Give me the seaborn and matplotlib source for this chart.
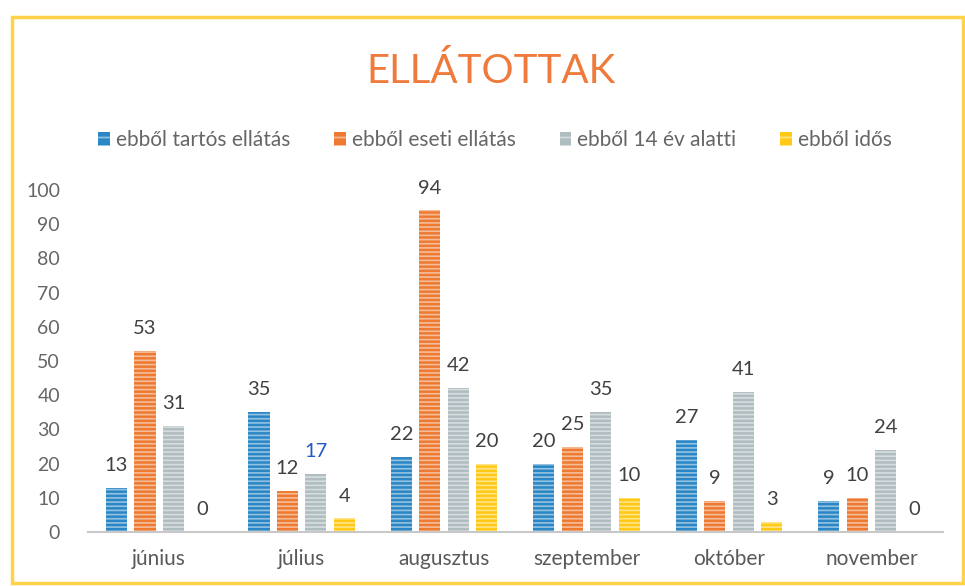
import numpy as np
import pandas as pd
import matplotlib
matplotlib.use("Agg")
import matplotlib.pyplot as plt
import seaborn as sns
from matplotlib.patches import Rectangle, Patch

months = ["június", "július", "augusztus", "szeptember", "október", "november"]
series = ["ebből tartós ellátás", "ebből eseti ellátás", "ebből 14 év alatti", "ebből idős"]
tartos = [13, 35, 22, 20, 27, 9]
eseti = [53, 12, 94, 25, 9, 10]
alatti14 = [31, 17, 42, 35, 41, 24]
idos = [0, 4, 20, 10, 3, 0]
yticks = [0, 10, 20, 30, 40, 50, 60, 70, 80, 90, 100]
colors = ["#2A86C4", "#EE7A32", "#AFBCC0", "#FFC914"]

df = pd.DataFrame({
    "hónap": months * 4,
    "sorozat": [s for s in series for _ in months],
    "érték": tartos + eseti + alatti14 + idos,
})

sns.set_theme(style="white")
plt.rcParams["font.family"] = ["Lato", "DejaVu Sans"]
plt.rcParams["hatch.linewidth"] = 1.2

fig = plt.figure(figsize=(9.65, 5.86), dpi=100)
ax = fig.add_axes([0.091, 0.092, 0.886, 0.584])

sns.barplot(data=df, x="hónap", y="érték", hue="sorozat", order=months,
            hue_order=series, palette=colors, width=0.8, gap=0.25,
            ax=ax, legend=False, saturation=1)

for cont in ax.containers:
    for p in cont:
        p.set_hatch("----")
        p.set_edgecolor((1, 1, 1, 0.5))
        p.set_linewidth(0)

label_col = "#404040"
for i, cont in enumerate(ax.containers):
    texts = ax.bar_label(cont, padding=10, fontsize=14.5, color=label_col)
    if i == 2:
        texts[1].set_color("#2458C8")

ax.set_ylim(0, 100)
ax.set_yticks(yticks)
ax.set_yticklabels([str(v) for v in yticks])
ax.tick_params(axis="y", length=0, pad=20, labelsize=14, labelcolor="#666666")
ax.tick_params(axis="x", length=0, pad=12, labelsize=15, labelcolor="#595959")
ax.set_xlabel("")
ax.set_ylabel("")
for s in ["top", "right", "left"]:
    ax.spines[s].set_visible(False)
ax.spines["bottom"].set_color("#C8C8C8")
ax.spines["bottom"].set_linewidth(1.5)
ax.set_xlim(-0.5, 5.5)

handles = [Patch(facecolor=c, edgecolor=(1, 1, 1, 0.5), hatch="--", linewidth=0) for c in colors]
fig.legend(handles, series, loc="center", bbox_to_anchor=(0.513, 0.761), ncol=4,
           frameon=False, fontsize=15, labelcolor="#666666", handlelength=0.55,
           handleheight=0.65, handletextpad=0.3, columnspacing=2.1)

fig.text(0.509, 0.878, "ELLÁTOTTAK", ha="center", va="center", fontsize=29,
         color="#EE7A3C")

fig.patches.append(Rectangle((0.0125, 0.005), 0.985, 0.966, transform=fig.transFigure,
                             fill=False, edgecolor="#FFD24A", linewidth=2.5))

fig.savefig("out.png", dpi=100)
